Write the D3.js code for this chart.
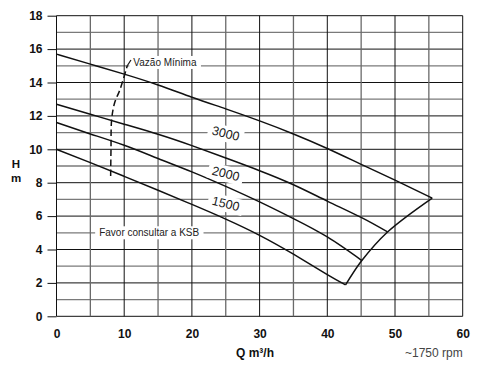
<!DOCTYPE html>
<html>
<head>
<meta charset="utf-8">
<script src="https://cdn.jsdelivr.net/npm/d3@7"></script>
<style>
  body { margin: 0; background: #fff; }
  svg { font-family: "Liberation Sans", Arial, sans-serif; }
</style>
</head>
<body>
<div id="chart"></div>
<script>
// Q (m3/h), H (m)
const curveA = [[0,15.7],[5,15.1],[10,14.5],[15,13.85],[20,13.12],[25,12.42],[30,11.7],[35,10.92],[40,10.05],[45,9.1],[50,8.15],[55.5,7.08]];
const curveB = [[0,12.7],[5,12.1],[10,11.5],[15,10.9],[20,10.22],[25,9.48],[30,8.72],[35,7.88],[40,6.9],[45,5.92],[48.9,5.05]];
const curveC = [[0,11.6],[5,10.92],[10,10.24],[15,9.45],[20,8.65],[25,7.78],[30,6.85],[35,5.85],[40,4.75],[45.1,3.34]];
const curveD = [[0,10.0],[5,9.2],[10,8.38],[15,7.55],[20,6.7],[25,5.82],[30,4.85],[35,3.72],[40,2.5],[42.7,1.88]];
const boundary = [[42.7,1.88],[45.1,3.34],[48.9,5.05],[55.5,7.08]];
const minFlow = [[8.0,8.4],[8.05,10],[8.15,11.8],[8.6,12.8],[9.4,13.6],[10.45,15.0]];

const curveLabels = [
  {text: "3000", q: 25, h: 10.95},
  {text: "2000", q: 25, h: 8.55},
  {text: "1500", q: 25, h: 6.75}
];
const xTicks = [0, 10, 20, 30, 40, 50, 60];
const yTicks = [0, 2, 4, 6, 8, 10, 12, 14, 16, 18];

const width = 495, height = 365;
const svg = d3.select('#chart').append('svg')
  .attr('width', width).attr('height', height);

const x = d3.scaleLinear().domain([0, 60]).range([56.5, 462.7]);
const y = d3.scaleLinear().domain([0, 18]).range([316.3, 15.7]);

// grid
const grid = svg.append('g');
grid.selectAll('.hline').data(d3.range(0, 19)).join('line')
  .attr('x1', x(0)).attr('x2', x(60))
  .attr('y1', d => y(d)).attr('y2', d => y(d))
  .attr('stroke', d => d % 2 ? '#7a7a7a' : '#111')
  .attr('stroke-width', d => d % 2 ? 1.3 : 1);
grid.selectAll('.vline').data(d3.range(0, 61, 5)).join('line')
  .attr('y1', y(0)).attr('y2', y(18))
  .attr('x1', d => x(d)).attr('x2', d => x(d))
  .attr('stroke', d => d % 10 ? '#6a6a6a' : '#111')
  .attr('stroke-width', d => d % 10 ? 1.3 : 1);

// axes
const yAxis = svg.append('g')
  .attr('transform', `translate(${x(0)},0)`)
  .call(d3.axisLeft(y).tickValues(yTicks).tickSize(9).tickPadding(5));
const xAxis = svg.append('g')
  .attr('transform', `translate(0,${y(0)})`)
  .call(d3.axisBottom(x).tickValues(xTicks).tickSize(0).tickPadding(13));
[yAxis, xAxis].forEach(a => {
  a.select('.domain').remove();
  a.selectAll('line').attr('stroke', '#111');
  a.selectAll('text').attr('font-size', 12).attr('font-weight', 'bold')
    .attr('fill', '#111').attr('font-family', '"Liberation Sans", Arial, sans-serif');
});

// curves
const line = d3.line().x(d => x(d[0])).y(d => y(d[1])).curve(d3.curveNatural);
svg.selectAll('.curve').data([curveA, curveB, curveC, curveD]).join('path')
  .attr('d', line).attr('fill', 'none').attr('stroke', '#111').attr('stroke-width', 1.5);

svg.append('path')
  .attr('d', d3.line().x(d => x(d[0])).y(d => y(d[1])).curve(d3.curveCatmullRom)(boundary))
  .attr('fill', 'none').attr('stroke', '#111').attr('stroke-width', 1.5);

svg.append('path')
  .attr('d', d3.line().x(d => x(d[0])).y(d => y(d[1])).curve(d3.curveCatmullRom)(minFlow))
  .attr('fill', 'none').attr('stroke', '#111').attr('stroke-width', 1.5)
  .attr('stroke-dasharray', '6.5,3.5');

// annotations
function boxedText(tx, ty, str, size, rot, anchor) {
  const g = svg.append('g').attr('transform', `translate(${tx},${ty}) rotate(${rot})`);
  const t = g.append('text').text(str)
    .attr('font-size', size).attr('fill', '#222')
    .attr('text-anchor', anchor || 'start')
    .attr('dy', '0.35em');
  const b = t.node().getBBox();
  g.insert('rect', 'text')
    .attr('x', b.x - 4).attr('y', b.y - 1)
    .attr('width', b.width + 8).attr('height', b.height + 2)
    .attr('fill', '#fff');
  return g;
}

boxedText(x(11.35), y(15.2), 'Vazão Mínima', 10, 0);
svg.append('line')
  .attr('x1', x(10.45)).attr('y1', y(15.0))
  .attr('x2', x(11.0)).attr('y2', y(15.35))
  .attr('stroke', '#111').attr('stroke-width', 1.2);
boxedText(x(6.3), y(5), 'Favor consultar a KSB', 10, 0);

curveLabels.forEach(d => boxedText(x(d.q), y(d.h), d.text, 12.5, 14, 'middle'));

// axis titles
svg.append('text').attr('x', 16).attr('y', 168).attr('text-anchor', 'middle')
  .attr('font-size', 11.5).attr('font-weight', 'bold').attr('fill', '#111').text('H');
svg.append('text').attr('x', 16).attr('y', 182).attr('text-anchor', 'middle')
  .attr('font-size', 11.5).attr('font-weight', 'bold').attr('fill', '#111').text('m');
svg.append('text').attr('x', 236).attr('y', 357)
  .attr('font-size', 12).attr('font-weight', 'bold').attr('fill', '#111').text('Q m³/h');
svg.append('text').attr('x', x(60)).attr('y', 357).attr('text-anchor', 'end')
  .attr('font-size', 12).attr('fill', '#444').text('~1750 rpm');
</script>
</body>
</html>
